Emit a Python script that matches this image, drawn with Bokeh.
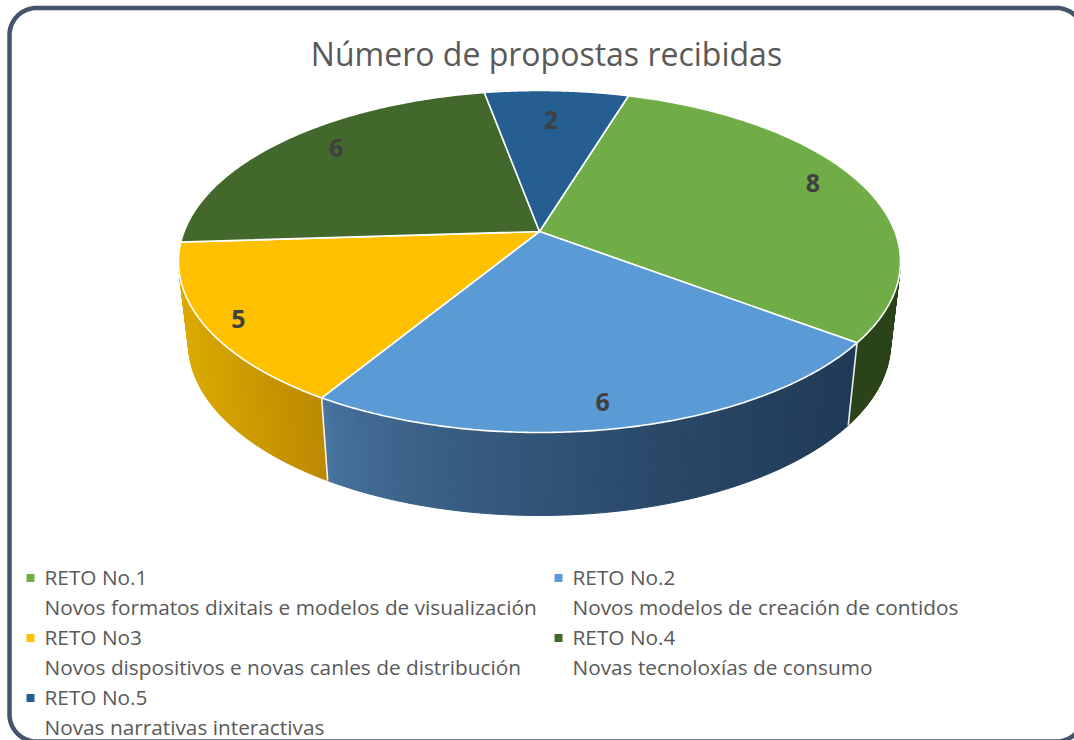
import math
from bokeh.plotting import figure
from bokeh.models import Range1d
from bokeh.core.properties import value
from bokeh.embed import file_html
from bokeh.resources import INLINE

# --- data -----------------------------------------------------------------
reto_names = ["RETO No.1", "RETO No.2", "RETO No3", "RETO No.4", "RETO No.5"]
reto_descs = [
    "Novos formatos dixitais e modelos de visualización",
    "Novos modelos de creación de contidos",
    "Novos dispositivos e novas canles de distribución",
    "Novas tecnoloxías de consumo",
    "Novas narrativas interactivas",
]
values = [8, 6, 5, 6, 2]
# apparent size of each slice (3D perspective)
slice_sizes = [8.2, 6.3, 4.1, 6.2, 2.05]
top_colors = ["#70ad47", "#5b9bd5", "#ffc000", "#43682b", "#255e91"]
wall_left = ["#2b4318", "#4a76a3", "#dcaa00", "#2b4318", "#255e91"]
wall_right = ["#2b4318", "#1f3a56", "#bb8900", "#2b4318", "#255e91"]
wall_gamma = [1, 0.62, 1, 1, 1]
title = "Número de propostas recibidas"

# --- layout ---------------------------------------------------------------
W, H = 1074, 740
CX, TOP_CY, TOP_RX, TOP_RY = 539.0, 261.0, 361.0, 171.0
BOT_CY, BOT_RX, BOT_RY = 343.0, 351.0, 172.0
HUB_Y = 231.0
A = (HUB_Y - TOP_CY) / TOP_RY
START = 17.0
TEXT_FONT = value("Open Sans")
label_reach = [0.85, 0.87, 0.90, 0.80, 0.79]
label_shift = [(1, -7), (-7, -1), (0, 3), (-1, -10), (-2, 0)]


def project(deg, cy, rx, ry):
    t = math.radians(deg)
    u, v = math.sin(t), -math.cos(t)
    den = 1 + A * v
    return CX + rx * u * math.sqrt(1 - A * A) / den, cy + ry * (v + A) / den


def top(deg):
    return project(deg, TOP_CY, TOP_RX, TOP_RY)


def bot(deg):
    return project(deg, BOT_CY, BOT_RX, BOT_RY)


def mix(c1, c2, t):
    a = [int(c1[i:i + 2], 16) for i in (1, 3, 5)]
    b = [int(c2[i:i + 2], 16) for i in (1, 3, 5)]
    return "#%02x%02x%02x" % tuple(round(p + (q - p) * t) for p, q in zip(a, b))


total = sum(slice_sizes)
edges = [START]
for s in slice_sizes:
    edges.append(edges[-1] + s / total * 360)

p = figure(width=W, height=H, x_range=Range1d(0, W), y_range=Range1d(H, 0),
           x_axis_location=None, y_axis_location=None, toolbar_location=None,
           output_backend="svg", min_border=0, outline_line_color=None)
p.grid.visible = False
p.background_fill_color = "white"
p.border_fill_color = "white"

# --- rounded frame --------------------------------------------------------
L, R, T, B, RAD = 9.0, 1083.0, 7.5, 741.0, 27.0
fx, fy = [], []
for ccx, ccy, a0 in ((R - RAD, T + RAD, -90), (R - RAD, B - RAD, 0),
                     (L + RAD, B - RAD, 90), (L + RAD, T + RAD, 180)):
    for k in range(21):
        ang = math.radians(a0 + 90 * k / 20)
        fx.append(ccx + RAD * math.cos(ang))
        fy.append(ccy + RAD * math.sin(ang))
fx.append(fx[0])
fy.append(fy[0])
p.line(fx, fy, line_color="#44546a", line_width=4.5)

# --- side wall ------------------------------------------------------------
VIS0, VIS1 = 100.0, 262.0
xs, ys, cs = [], [], []
for i in range(len(values)):
    a0, a1 = max(edges[i], VIS0), min(edges[i + 1], VIS1)
    if a1 <= a0:
        continue
    n = max(2, int((a1 - a0) / 0.8))
    bx = sorted((bot(a0)[0], bot(a1)[0]))
    for k in range(n):
        d0, d1 = a0 + (a1 - a0) * k / n, a0 + (a1 - a0) * (k + 1) / n
        q = [top(d0), top(d1), bot(d1), bot(d0)]
        xs.append([c[0] for c in q])
        ys.append([c[1] for c in q])
        t = (bot((d0 + d1) / 2)[0] - bx[0]) / (bx[1] - bx[0])
        cs.append(mix(wall_left[i], wall_right[i], max(t, 0) ** wall_gamma[i]))
p.patches(xs, ys, fill_color=cs, line_color=cs, line_width=1.0)

# white seams on the wall
for e in edges[1:3]:
    a, b = top(e), bot(e)
    p.line([a[0], b[0]], [a[1], b[1]], line_color="#ffffff", line_width=1.6, line_alpha=0.9)

# --- top face -------------------------------------------------------------
for i in range(len(values)):
    steps = 160
    arc = [top(edges[i] + (edges[i + 1] - edges[i]) * k / steps) for k in range(steps + 1)]
    px = [CX] + [c[0] for c in arc]
    py = [HUB_Y] + [c[1] for c in arc]
    p.patch(px, py, fill_color=top_colors[i], line_color="#ffffff", line_width=1.6,
            line_join="round")

# --- data labels ----------------------------------------------------------
lx, ly, lt = [], [], []
for i, v in enumerate(values):
    ex, ey = top((edges[i] + edges[i + 1]) / 2)
    lx.append(CX + (ex - CX) * label_reach[i] + label_shift[i][0])
    ly.append(HUB_Y + (ey - HUB_Y) * label_reach[i] + label_shift[i][1])
    lt.append(str(v))
p.text(lx, ly, text=lt, text_font=TEXT_FONT, text_font_size="25px", text_font_style="bold",
       text_color="#404040", text_align="center", text_baseline="middle")

# --- title ----------------------------------------------------------------
p.text([546], [53], text=[title], text_font=TEXT_FONT, text_font_size="32px",
       text_color="#595959", text_align="center", text_baseline="middle")

# --- legend ---------------------------------------------------------------
ROW0, ROW_H = 576.5, 30.0
COLS = (30.0, 558.0)
sqx, sqy, tx, ty, tt = [], [], [], [], []
for i, (nm, ds) in enumerate(zip(reto_names, reto_descs)):
    col = i % 2
    rowy = ROW0 + (i // 2) * 2 * ROW_H
    sqx.append(COLS[col])
    sqy.append(rowy + 1)
    tx += [COLS[col] + 14, COLS[col] + 14]
    ty += [rowy, rowy + ROW_H]
    tt += [nm, ds]
p.rect(sqx, sqy, width=8, height=8, fill_color=top_colors, line_color=None)
p.text(tx, ty, text=tt, text_font=TEXT_FONT, text_font_size="20.8px", text_color="#595959",
       text_align="left", text_baseline="middle")

open("out.html", "w").write(file_html(p, INLINE))
